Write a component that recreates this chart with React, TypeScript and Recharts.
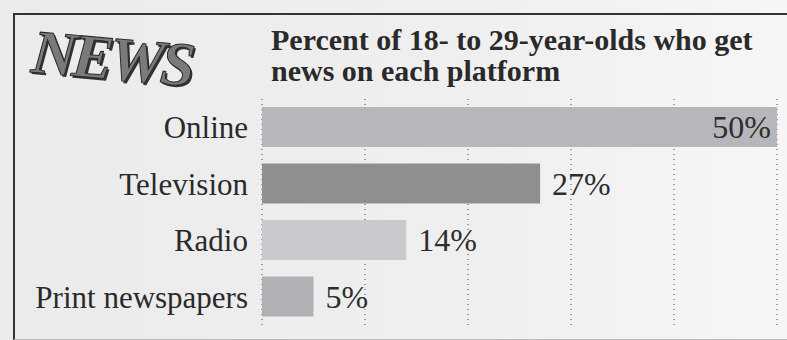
import { BarChart, Bar, XAxis, YAxis, CartesianGrid, Cell, LabelList } from 'recharts';

const platforms = ['Online', 'Television', 'Radio', 'Print newspapers'];
const percents = [50, 27, 14, 5];
const barColors = ['#b7b6ba', '#8f8f8f', '#cbc9ce', '#b2b0b5'];
const xTicks = [0, 10, 20, 30, 40, 50];

const data = platforms.map((name, i) => ({ name, value: percents[i] }));

const serif = '"Liberation Serif", "Times New Roman", "DejaVu Serif", serif';

const ValueLabel = (props: any) => {
  const { x, y, width, height, value } = props;
  const inside = value >= 40;
  return (
    <text
      x={inside ? x + width - 6 : x + width + 12}
      y={y + height / 2}
      dy="0.35em"
      textAnchor={inside ? 'end' : 'start'}
      fontFamily={serif}
      fontSize={32}
      fill="#2e2e2e"
    >
      {value}%
    </text>
  );
};

export default function App() {
  return (
    <div
      style={{
        position: 'absolute',
        left: 0,
        top: 0,
        width: 787,
        height: 340,
        overflow: 'hidden',
        background: 'linear-gradient(to right, #ebebeb, #efefef 60%, #f6f6f6)',
      }}
    >
      {/* frame */}
      <div style={{ position: 'absolute', left: 13, top: 13, width: 774, height: 324, borderTop: '2px solid #333', borderLeft: '2px solid #333', borderBottom: '1px solid #bbb' }} />

      <div
        style={{
          position: 'absolute',
          left: 32,
          top: 16,
          fontFamily: serif,
          fontWeight: 'bold',
          fontStyle: 'italic',
          fontSize: 62,
          letterSpacing: -4,
          color: '#7a7a7a',
          WebkitTextStroke: '1px #2a2a2a',
          textShadow: '2px 2px 0 #333',
          transform: 'rotate(5deg)',
          transformOrigin: 'left center',
        }}
      >
        NEWS
      </div>

      <div
        style={{
          position: 'absolute',
          left: 271,
          top: 24,
          fontFamily: serif,
          fontWeight: 'bold',
          fontSize: 30,
          lineHeight: '31px',
          color: '#2a2a2a',
        }}
      >
        Percent of 18- to 29-year-olds who get
        <br />
        news on each platform
      </div>

      <div style={{ position: 'absolute', left: 0, top: 0 }}>
        <BarChart
          width={787}
          height={340}
          data={data}
          layout="vertical"
          margin={{ top: 99, right: 10, bottom: 15, left: 12 }}
        >
          <CartesianGrid horizontal={false} vertical strokeDasharray="1 4" stroke="#444" />
          <XAxis type="number" domain={[0, 50]} ticks={xTicks} hide />
          <YAxis
            type="category"
            dataKey="name"
            width={250}
            axisLine={false}
            tickLine={false}
            tickSize={0}
            tickMargin={14}
            tick={{ fontFamily: serif, fontSize: 31, fill: '#2a2a2a' }}
          />
          <Bar dataKey="value" barSize={40} isAnimationActive={false}>
            {data.map((d, i) => (
              <Cell key={d.name} fill={barColors[i]} />
            ))}
            <LabelList dataKey="value" content={ValueLabel} />
          </Bar>
        </BarChart>
      </div>
    </div>
  );
}
